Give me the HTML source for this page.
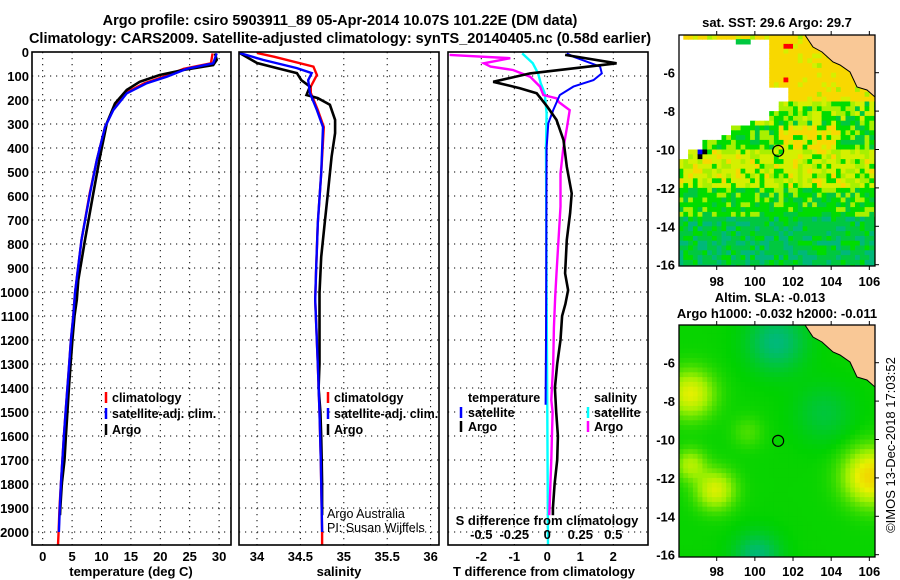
<!DOCTYPE html>
<html><head><meta charset="utf-8">
<style>
html,body{margin:0;padding:0;background:#fff;}
svg{display:block;font-family:"Liberation Sans",sans-serif;}
.t{font-weight:bold;font-size:13px;fill:#000;}
.ttl{font-weight:bold;font-size:14.5px;fill:#000;}
.lg{font-weight:bold;font-size:12.5px;fill:#000;}
.grid{stroke:#000;stroke-width:1;stroke-dasharray:1.2,4.8;}
</style></head>
<body>
<svg id="fig" width="900" height="580" viewBox="0 0 900 580" xmlns="http://www.w3.org/2000/svg">
<text class="ttl" x="340" y="25" text-anchor="middle">Argo profile: csiro 5903911_89 05-Apr-2014 10.07S 101.22E (DM data)</text>
<text class="ttl" x="340" y="43" text-anchor="middle">Climatology: CARS2009. Satellite-adjusted climatology: synTS_20140405.nc (0.58d earlier)</text>
<g id="p1"></g>
<g id="p2"></g>
<g id="p3"></g>
<g id="m1"></g>
<g id="m2"></g>
<text class="t" x="777" y="27" text-anchor="middle">sat. SST: 29.6 Argo: 29.7</text>
<text class="t" x="770" y="302" text-anchor="middle">Altim. SLA: -0.013</text>
<text class="t" x="777" y="318" text-anchor="middle">Argo h1000: -0.032 h2000: -0.011</text>
<text x="895" y="445" font-size="13" fill="#000" text-anchor="middle" transform="rotate(-90 895 445)">©IMOS 13-Dec-2018 17:03:52</text>
</svg>
<script>
// ---------- data ----------
const depthTicks=[0,100,200,300,400,500,600,700,800,900,1000,1100,1200,1300,1400,1500,1600,1700,1800,1900,2000];
const tempTicks=[0,5,10,15,20,25,30];
const salTicks=[34,34.5,35,35.5,36];
const salTickLabels=["34","34.5","35","35.5","36"];
const tdiffTicks=[-2,-1,0,1,2];
const sdiffTicks=[-0.5,-0.25,0,0.25,0.5];
const sdiffTickLabels=["-0.5","-0.25","0","0.25","0.5"];

const argoTDepth=[6,33,54,75,96,124,158,214,297,436,589,783,950,1033,1100,1200,1300,1400,1500,1600,1700,1800,1900,1930];
const argoTVal=[29.3,29.6,29.0,23.9,19.9,16.5,14.3,12.3,10.9,9.75,8.6,7.2,6.05,5.8,5.4,5.05,4.75,4.45,4.2,3.95,3.7,3.25,3.0,2.95];
const satTDepth=[6,47,70,103,130,172,242,313,450,589,783,1004,1100,1200,1300,1400,1500,1600,1700,1800,1900,2000];
const satTVal=[29.6,29.0,24.5,21.1,17.7,14.3,12.0,10.6,9.2,8.05,6.6,5.5,5.2,4.8,4.5,4.2,3.9,3.6,3.35,3.1,2.9,2.75];
const climTDepth=[6,47,70,103,130,172,242,313,450,589,783,1004,1100,1200,1300,1400,1500,1600,1700,1800,1900,2000,2054];
const climTVal=[28.9,28.6,24.0,20.6,17.3,14.0,11.9,10.6,9.2,8.0,6.6,5.5,5.2,4.8,4.5,4.2,3.9,3.6,3.35,3.1,2.85,2.7,2.6];

const argoSDepth=[4,46,67,88,117,144,179,192,220,283,338,436,575,713,854,1004,1100,1300,1400,1500,1600,1700,1800,1930];
const argoSVal=[33.80,34.0,34.23,34.46,34.51,34.61,34.57,34.70,34.84,34.90,34.90,34.86,34.82,34.78,34.74,34.72,34.72,34.72,34.71,34.73,34.74,34.745,34.75,34.75];
const satSDepth=[4,33,67,88,117,171,242,313,505,713,921,1033,1300,1500,1700,2000];
const satSVal=[33.80,34.07,34.46,34.63,34.59,34.61,34.69,34.76,34.74,34.70,34.68,34.67,34.70,34.72,34.735,34.75];
const climSDepth=[4,20,61,96,144,171,242,313,505,713,921,1033,1300,1500,1700,2000,2054];
const climSVal=[34.0,34.2,34.65,34.69,34.62,34.62,34.70,34.77,34.74,34.70,34.68,34.67,34.70,34.72,34.735,34.75,34.75];

const argoDTDepth=[12,47,89,124,151,172,228,283,367,478,589,672,783,922,992,1050,1100,1200,1300,1400,1500,1600,1700,1800,1900,1930];
const argoDTVal=[0.54,2.1,-0.52,-1.64,-0.83,-0.32,0,0.28,0.49,0.59,0.74,0.69,0.59,0.54,0.63,0.55,0.45,0.4,0.3,0.23,0.27,0.32,0.3,0.22,0.17,0.17];
const satDTDepth=[6,20,61,89,117,144,179,242,297,400,800,1200,1470];
const satDTVal=[0.59,0.8,1.6,1.65,1.4,0.79,0.38,0.18,0.03,-0.02,-0.03,-0.04,-0.05];
const argoDSDepth=[12,26,47,61,75,103,144,179,193,210,242,311,408,506,644,783,922,1019,1150,1300,1450,1500,1700,1930];
const argoDSVal=[-0.74,-0.28,-0.48,-0.43,-0.26,-0.13,-0.055,-0.03,0.07,0.09,0.17,0.15,0.12,0.1,0.1,0.085,0.07,0.06,0.05,0.045,0.03,0.04,0.03,0.015];
const satDSDepth=[6,47,89,130,172,256,400,1000,1500,2054];
const satDSVal=[-0.19,-0.11,-0.07,-0.05,-0.02,-0.005,-0.01,-0.005,0,0.005];

const mapLonTicks=[98,100,102,104,106];
const mapLatTicks=[-6,-8,-10,-12,-14,-16];
const floatLon=101.22, floatLat=-10.07;

// ---------- helpers ----------
const NS="http://www.w3.org/2000/svg";
function mk(tag,attrs,parent){const e=document.createElementNS(NS,tag);for(const k in attrs)e.setAttribute(k,attrs[k]);parent.appendChild(e);return e;}
const TOP=52,BOT=545;
const yD=d=>TOP+d*0.24;
const xT=t=>42.7+t*5.88;
const xS=s=>257+(s-34)*86.8;
const xDT=v=>547.3+v*33;
const xDS=v=>547.3+v*132;

function panelFrame(g,x0,x1,xticks,xfn,clipId){
  const cp=mk('clipPath',{id:clipId},g);
  mk('rect',{x:x0,y:TOP,width:x1-x0,height:BOT-TOP},cp);
  depthTicks.forEach(d=>{if(d===0)return;const l=mk('line',{x1:x0,x2:x1,y1:yD(d),y2:yD(d),class:'grid'},g);
    
    });
  xticks.forEach(v=>{const l=mk('line',{x1:xfn(v),x2:xfn(v),y1:TOP,y2:BOT,class:'grid'},g);
    
    });
}
function frameBorder(g,x0,x1){const r=mk('rect',{x:x0,y:TOP,width:x1-x0,height:BOT-TOP,fill:'none',stroke:'#000','stroke-width':1.6},g);
  
  }
function series(g,depths,vals,xfn,color,w,clipId,name){
  const pts=depths.map((d,i)=>xfn(vals[i]).toFixed(1)+','+yD(d).toFixed(1)).join(' ');
  const p=mk('polyline',{points:pts,fill:'none',stroke:color,'stroke-width':w,'stroke-linejoin':'miter','clip-path':'url(#'+clipId+')'},g);
  
  
}
function txt(g,x,y,s,cls,anchor,name){const t=mk('text',{x:x,y:y,class:cls,'text-anchor':anchor||'start'},g);t.textContent=s;
  
  return t;}
function legendMark(g,x,y,color,name){const l=mk('line',{x1:x,x2:x,y1:y-10,y2:y+1,stroke:color,'stroke-width':2.5},g);
  
  }

// ---------- panel 1 ----------
const p1=document.getElementById('p1');
panelFrame(p1,32,231,tempTicks,xT,'c1');
series(p1,climTDepth,climTVal,xT,'#ff0000',2.4,'c1','temperature-climatology-line');
series(p1,argoTDepth,argoTVal,xT,'#000000',2.6,'c1','temperature-argo-line');
series(p1,satTDepth,satTVal,xT,'#0000ff',2.4,'c1','temperature-satellite-line');
frameBorder(p1,32,231);
depthTicks.forEach(d=>txt(p1,29,yD(d)+5,String(d),'t','end','depth-tick-label'));
tempTicks.forEach(v=>txt(p1,xT(v),561,String(v),'t','middle','temperature-tick-label'));
txt(p1,131,576,'temperature (deg C)','t','middle','temperature-axis-title');
legendMark(p1,106,402,'#ff0000','legend-climatology-marker');txt(p1,112,402,'climatology','lg','start','legend-climatology');
legendMark(p1,106,418,'#0000ff','legend-satellite-marker');txt(p1,112,418,'satellite-adj. clim.','lg','start','legend-satellite');
legendMark(p1,106,434,'#000000','legend-argo-marker');txt(p1,112,434,'Argo','lg','start','legend-argo');

// ---------- panel 2 ----------
const p2=document.getElementById('p2');
panelFrame(p2,239,439,salTicks,xS,'c2');
series(p2,climSDepth,climSVal,xS,'#ff0000',2.4,'c2','salinity-climatology-line');
series(p2,argoSDepth,argoSVal,xS,'#000000',2.6,'c2','salinity-argo-line');
series(p2,satSDepth,satSVal,xS,'#0000ff',2.4,'c2','salinity-satellite-line');
frameBorder(p2,239,439);
salTicks.forEach((v,i)=>txt(p2,xS(v),561,salTickLabels[i],'t','middle','salinity-tick-label'));
txt(p2,339,576,'salinity','t','middle','salinity-axis-title');
legendMark(p2,328,402,'#ff0000','legend-climatology-marker');txt(p2,334,402,'climatology','lg','start','legend-climatology');
legendMark(p2,328,418,'#0000ff','legend-satellite-marker');txt(p2,334,418,'satellite-adj. clim.','lg','start','legend-satellite');
legendMark(p2,328,434,'#000000','legend-argo-marker');txt(p2,334,434,'Argo','lg','start','legend-argo');
const cr1=txt(p2,327,518,'Argo Australia','t','start','credit-line1');cr1.setAttribute('style','font-weight:normal;font-size:12.5px');
const cr2=txt(p2,327,532,'PI: Susan Wijffels','t','start','credit-line2');cr2.setAttribute('style','font-weight:normal;font-size:12.5px');

// ---------- panel 3 ----------
const p3=document.getElementById('p3');
panelFrame(p3,448,648,tdiffTicks,xDT,'c3');
series(p3,satDSDepth,satDSVal,xDS,'#00ffff',2.4,'c3','salinity-diff-satellite-line');
series(p3,argoDSDepth,argoDSVal,xDS,'#ff00ff',2.4,'c3','salinity-diff-argo-line');
series(p3,satDTDepth,satDTVal,xDT,'#0000ff',2,'c3','temperature-diff-satellite-line');
series(p3,argoDTDepth,argoDTVal,xDT,'#000000',2.6,'c3','temperature-diff-argo-line');
frameBorder(p3,448,648);
tdiffTicks.forEach(v=>txt(p3,xDT(v),561,String(v),'t','middle','tdiff-tick-label'));
txt(p3,544,576,'T difference from climatology','t','middle','tdiff-axis-title');
sdiffTicks.forEach((v,i)=>txt(p3,xDS(v),539,sdiffTickLabels[i],'t','middle','sdiff-tick-label'));
txt(p3,547,525,'S difference from climatology','t','middle','sdiff-axis-title');
txt(p3,468,402,'temperature','lg','start','legend-temperature-heading');
legendMark(p3,461,417,'#0000ff','legend-t-satellite-marker');txt(p3,468,417,'satellite','lg','start','legend-t-satellite');
legendMark(p3,461,431,'#000000','legend-t-argo-marker');txt(p3,468,431,'Argo','lg','start','legend-t-argo');
txt(p3,594,402,'salinity','lg','start','legend-salinity-heading');
legendMark(p3,588,417,'#00ffff','legend-s-satellite-marker');txt(p3,594,417,'satellite','lg','start','legend-s-satellite');
legendMark(p3,588,431,'#ff00ff','legend-s-argo-marker');txt(p3,594,431,'Argo','lg','start','legend-s-argo');

// ---------- maps ----------
const MX0=679,MX1=875;
const lonX=lo=>716.7+(lo-98)*19.08;
function hash(i,j){let h=(i*374761393+j*668265263)^0x5bd1e995;h=(h^(h>>>13))*1274126177;h=h^(h>>>16);return ((h>>>0)%10000)/10000;}
const landPts=[[805,0],[813,12],[822,17],[833,27],[840,30],[850,37],[857,52],[867,55],[875,62],[875,0]];
function drawMap(g,y0,y1,colorFn,clipId,name){
  const latY=la=>y0+37.7+(-6-la)*19.2;
  const cp=mk('clipPath',{id:clipId},g);mk('rect',{x:MX0,y:y0,width:MX1-MX0,height:y1-y0},cp);
  const cg=mk('g',{'clip-path':'url(#'+clipId+')'},g);
  const step=0.25,px=step*19.08,py=step*19.2;
  for(let lo=96,i=0;lo<106.4;lo+=step,i++){
    for(let la=-4,j=0;la>-16.2;la-=step,j++){
      const x=lonX(lo),y=latY(la);
      const c=colorFn(lo,la,i,j,x,y-y0);
      if(!c)continue;
      const r=mk('rect',{x:x.toFixed(1),y:y.toFixed(1),width:(px+0.6).toFixed(1),height:(py+0.6).toFixed(1),fill:c},cg);
      
      
    }
  }
  const land=mk('polygon',{points:landPts.map(p=>p[0]+','+(p[1]+y0)).join(' '),fill:'#f9c896',stroke:'#000','stroke-width':1},cg);
  
  
  const c=mk('circle',{cx:lonX(floatLon),cy:latY(floatLat),r:5.5,fill:'none',stroke:'#000','stroke-width':1.2},g);
  
  
  const b=mk('rect',{x:MX0,y:y0,width:MX1-MX0,height:y1-y0,fill:'none',stroke:'#000','stroke-width':1.3},g);
  
  
  mapLonTicks.forEach(lo=>{txt(g,lonX(lo),y0+251,String(lo),'t','middle','map-lon-label');
    mk('line',{x1:lonX(lo),x2:lonX(lo),y1:y0-4,y2:y0,stroke:'#000'},g);
    mk('line',{x1:lonX(lo),x2:lonX(lo),y1:y1,y2:y1+4,stroke:'#000'},g);});
  mapLatTicks.forEach(la=>{txt(g,675,latY(la)+5,String(la),'t','end','map-lat-label');
    mk('line',{x1:MX1,x2:MX1+4,y1:latY(la),y2:latY(la),stroke:'#000'},g);});
}
const sstPal=['#00b87a','#00c840','#00dc00','#a8f000','#d4f000','#f8d800','#ff0000','#00ffff','#0000ff','#000000'];
const noDataB=[[0,765],[47,765],[48,787],[58,787],[65,777],[75,768],[82,747],[87,727],[98,717],[102,700],[112,685],[120,679]];
function noDataX(y){for(let k=0;k<noDataB.length-1;k++){if(y>=noDataB[k][0]&&y<noDataB[k+1][0])return noDataB[k][1];}return y<120?679:0;}
drawMap(document.getElementById('m1'),35,266,(lo,la,i,j,x,yy)=>{
  if(x<noDataX(yy))return (yy<8&&x>734&&x<746)?'#00c840':null;
  const n=hash(i,j);
  let v;
  if(la>-7.5) v=n<0.85?5:(n<0.95?4:3);
  else if(la>-8.7) v=n<0.4?2:(n<0.7?3:(n<0.85?1:4));
  else if(la>-10&&lo>101&&lo<104.5) v=n<0.55?5:(n<0.8?4:2);
  else if(la>-10) v=n<0.5?2:(n<0.75?3:1);
  else if(la>-12) v=n<0.45?4:(n<0.7?3:(n<0.9?2:5));
  else if(la>-13.5) v=n<0.45?2:(n<0.75?3:1);
  else v=n<0.5?1:(n<0.8?0:2);
  if(la>-7.5&&lo>101&&lo<103&&n>0.97)v=6;
  if(la<-9.5&&la>-10.5&&lo<97.5&&n>0.6)v=7+Math.floor(n*3)%3;
  return sstPal[v];
},'cm1','sst-map');
const slaBlobs=[[96.5,-7.5,1.6,1.2],[97.8,-12.5,1.5,1.0],[96.5,-11.2,1.1,0.8],[106,-11.8,2.2,1.4],[101,-4.8,-1.0,1.5],[100,-16,-1.0,1.2],[103.5,-8.5,-0.5,1.5],[99.5,-9.5,0.4,0.8]];
const slaStops=[[0,[0,184,128]],[1,[0,210,0]],[2,[160,240,0]],[2.7,[232,240,0]],[3.2,[240,216,0]]];
drawMap(document.getElementById('m2'),325,557,(lo,la)=>{
  let v=1.05;
  slaBlobs.forEach(b=>{const d2=((lo-b[0])**2+(la-b[1])**2)/(b[3]*b[3]);v+=b[2]*Math.exp(-d2);});
  v=Math.max(0,Math.min(3.2,v));
  let k=0;while(k<slaStops.length-2&&v>slaStops[k+1][0])k++;
  const a=slaStops[k],b=slaStops[k+1],f=(v-a[0])/(b[0]-a[0]);
  const c=a[1].map((x,ii)=>Math.round(x+(b[1][ii]-x)*f));
  return 'rgb('+c.join(',')+')';
},'cm2','sla-map');
</script>
</body></html>
